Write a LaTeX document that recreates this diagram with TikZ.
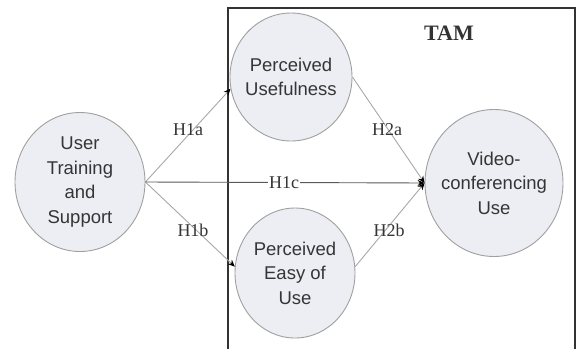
\documentclass[tikz,border=0pt]{standalone}
\usepackage{fontspec}
\setmainfont{Liberation Serif}
\newfontfamily\arialfont{Liberation Sans}
\usetikzlibrary{shapes.geometric,arrows.meta}
\definecolor{nodefill}{HTML}{ECEEF3}
\definecolor{nodeline}{HTML}{A0A0A0}
\definecolor{txt}{HTML}{353535}
\definecolor{lightline}{HTML}{A8A8A8}
\begin{document}
\begin{tikzpicture}[x=1pt,y=-1pt,
  blob/.style={ellipse,draw=nodeline,fill=nodefill,line width=0.9pt,inner sep=0pt},
  blobtext/.style={align=center,text=txt,font=\arialfont\fontsize{18.5}{24.5}\selectfont},
  hyp/.style={text=txt,font=\fontsize{18}{20}\selectfont,inner sep=1pt},
  conn/.style={draw=lightline,line width=0.9pt,-{Stealth[length=7pt,width=6pt,black]}},
  conndark/.style={draw=black!65,line width=0.9pt,-{Stealth[length=7pt,width=6pt,black]}}]
\useasboundingbox (0,0) rectangle (578,349);
\fill[white] (0,0) rectangle (578,349);
% TAM box
\draw[draw=black!80,line width=1.5pt] (228,349) -- (228,8) -- (575,8) -- (575,349);
\node[font=\bfseries\fontsize{22}{24}\selectfont,text=black!80] (tam) at (449,33) {TAM};
% nodes
\node[blob,minimum width=130pt,minimum height=139pt] (ut) at (80,182) {};
\node[blobtext] (utt) at (ut.center) {User\\Training\\and\\Support};
\node[blob,minimum width=122pt,minimum height=128pt] (pu) at (291,77) {};
\node[blobtext] (put) at (pu.center) {Perceived\\Usefulness};
\node[blob,minimum width=120pt,minimum height=130pt] (peou) at (295,273) {};
\node[blobtext] (peout) at (peou.center) {Perceived\\Easy of\\Use};
\node[blob,minimum width=138pt,minimum height=147pt] (vc) at (494,183) {};
\node[blobtext] (vct) at (vc.center) {Video-\\conferencing\\Use};
% connectors
\draw[conn] (ut.east) -- (pu.191);
\draw[conn] (ut.east) -- (peou.174);
\draw[conn] (pu.east) -- (vc.west);
\draw[conn] (peou.6) -- (vc.west);
\draw[conndark] (ut.east) -- (vc.west);
% labels
\node[hyp] (h1a) at (188,130) {H1a};
\node[hyp] (h1b) at (193,230) {H1b};
\node[hyp,fill=white] (h1c) at (284,183) {H1c};
\node[hyp] (h2a) at (387,130) {H2a};
\node[hyp] (h2b) at (389,230) {H2b};
\end{tikzpicture}
\end{document}
